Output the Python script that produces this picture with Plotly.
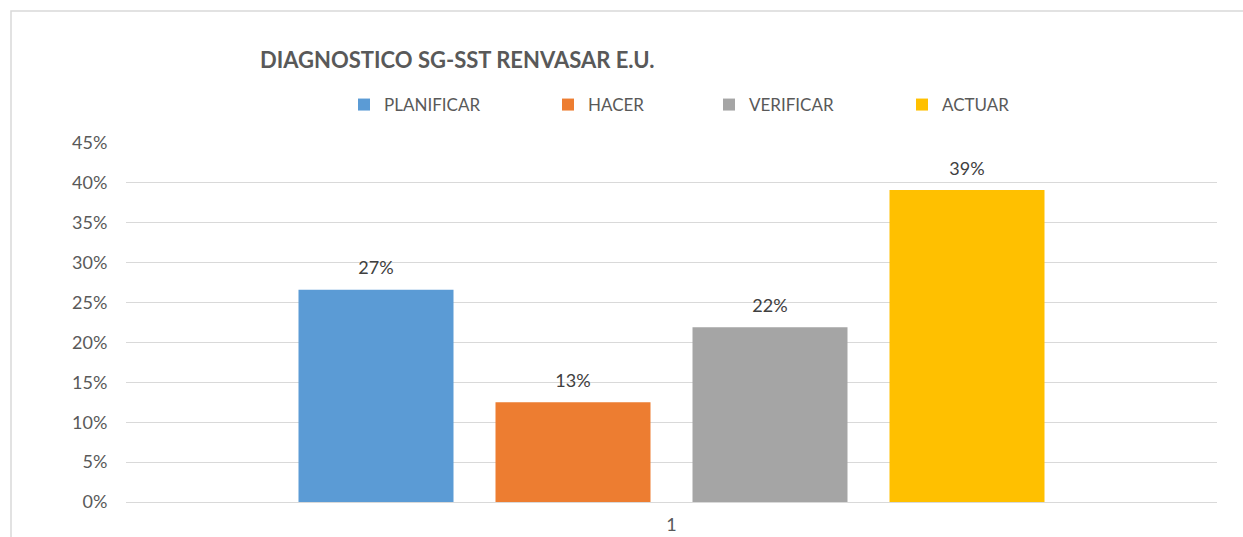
import math
import plotly.graph_objects as go

# ---- data ----
categories = ["1"]
series_names = ["PLANIFICAR", "HACER", "VERIFICAR", "ACTUAR"]
series_values = [0.266, 0.125, 0.219, 0.391]
series_colors = ["#5B9BD5", "#ED7D31", "#A5A5A5", "#FFC000"]
legend_widths = [159, 116, 148, 80]
y_ticks = [0, 0.05, 0.10, 0.15, 0.20, 0.25, 0.30, 0.35, 0.40, 0.45]
title_text = "DIAGNOSTICO SG-SST RENVASAR E.U."

W, H = 1243, 537
ML, MR, MT, MB = 126, 26, 143, 35
PW = W - ML - MR
PH = H - MT - MB

FONT = "Lato"


def pct_label(v):
    # Excel-style rounding (half up)
    return f"{math.floor(v * 100 + 0.5)}%"


fig = go.Figure()
for name, val, col, lw in zip(series_names, series_values, series_colors, legend_widths):
    fig.add_trace(go.Bar(
        x=categories, y=[val], name=name, marker=dict(color=col, line=dict(width=0)),
        legendwidth=lw, hoverinfo="skip",
    ))

# data labels on a hidden overlay axis, one category per series
fig.add_trace(go.Scatter(
    x=series_names, y=series_values, xaxis="x2", yaxis="y",
    mode="markers+text", text=[pct_label(v) for v in series_values],
    textposition="top center",
    textfont=dict(family=FONT, size=18, color="#404040"),
    marker=dict(size=16, opacity=0), showlegend=False, hoverinfo="skip",
    cliponaxis=False,
))

group_px = 4 * 197
bargap = 1 - group_px / PW
half_units = (PW / 197) / 2

fig.update_layout(
    width=W, height=H, autosize=False,
    margin=dict(l=ML, r=MR, t=MT, b=MB, pad=0, autoexpand=False),
    paper_bgcolor="white", plot_bgcolor="white",
    barmode="group", bargap=bargap, bargroupgap=1 - 155 / 197,
    font=dict(family=FONT, color="#595959"),
    title=dict(text=f"<b>{title_text}</b>", x=260 / W, xanchor="left", xref="container",
               y=1 - 60 / H, yanchor="middle", yref="container",
               font=dict(family=FONT, size=22, color="#595959")),
    legend=dict(orientation="h", x=(344 - ML) / PW, xanchor="left",
                y=(H - MB - 105) / PH, yanchor="middle",
                font=dict(family=FONT, size=17, color="#595959"),
                bgcolor="rgba(0,0,0,0)", itemwidth=30, traceorder="normal"),
    xaxis=dict(type="category", showgrid=False, showline=False, zeroline=False,
               automargin=False,
               ticks="outside", ticklen=6, tickcolor="rgba(0,0,0,0)",
               tickfont=dict(family=FONT, size=18, color="#595959")),
    xaxis2=dict(type="category", overlaying="x", visible=False,
                categoryorder="array", categoryarray=series_names,
                range=[1.5 - half_units, 1.5 + half_units]),
    yaxis=dict(range=[0, 0.45], tickvals=y_ticks, tickformat=".0%",
               automargin=False,
               showgrid=True, gridcolor="#D9D9D9", gridwidth=1,
               zeroline=True, zerolinecolor="#D9D9D9", zerolinewidth=1,
               showline=False, ticks="outside", ticklen=14, tickcolor="rgba(0,0,0,0)",
               tickfont=dict(family=FONT, size=18, color="#595959")),
    shapes=[dict(type="rect", xref="paper", yref="paper",
                 x0=(11 - ML) / PW, x1=1.2, y0=-0.3, y1=(H - MB - 11) / PH,
                 line=dict(color="#D9D9D9", width=1.5), fillcolor="rgba(0,0,0,0)",
                 layer="below")],
)

fig.write_html("out.html", include_plotlyjs=True, config={"displayModeBar": False},
               post_script="document.body.style.margin='0';document.body.style.overflow='hidden';")
